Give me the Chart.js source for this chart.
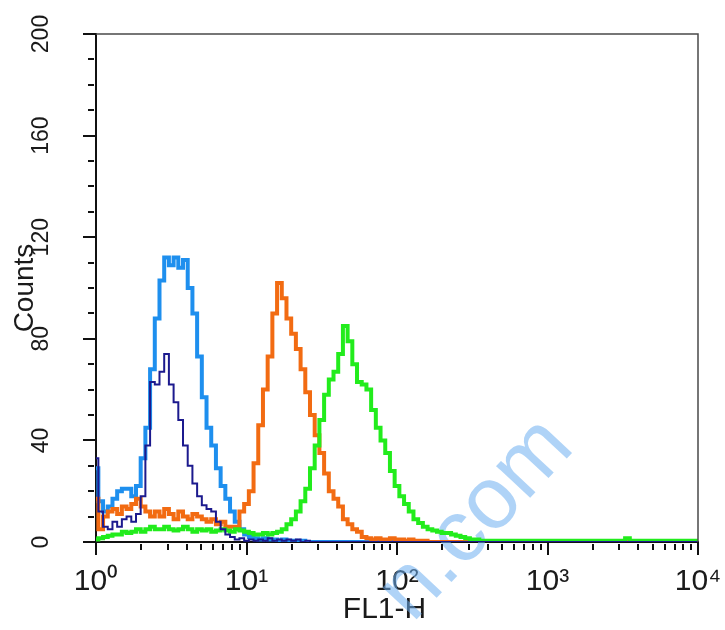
<!DOCTYPE html>
<html>
<head>
<meta charset="utf-8">
<script src="https://cdn.jsdelivr.net/npm/chart.js@4.4.0/dist/chart.umd.min.js"></script>
<style>
  html, body { margin: 0; padding: 0; background: #ffffff; }
  canvas { display: block; }
</style>
</head>
<body>
<canvas id="c" width="725" height="630"></canvas>
<script>
// ---- Data (counts per channel, 32 channels per decade, 10^0 .. 10^4) ----
const CHANNELS_PER_DECADE = 32;

const lightBlue = [
  29,16,12,14,17,20,21,21,18,22,
  33,45,68,88,103,112,109,112,108,111,
  100,90,73,57,45,38,29,22,17,12,
  8,5,3,2,1.5,1,1.5,1,1,0.5,
  1,0.5,0.5,0,0.5,0,0,0,0,0,
  0,0,0,0,0,0,0,0,0,0,
  0,0,0,0,0,0,0,0,0,0,
  0,0,0,0,0,0,0,0,0,0,
  0,0,0,0,0,0,0,0,0,0,
  0,0,0,0,0,0,0,0,0,0,
  0,0,0,0,0,0,0,0,0,0,
  0,0,0,0,0,0,0,0,0,0,
  0,0,0,0,0,0,0,0,0
];

const darkBlue = [
  33,12,6,5,8,6,9,10,8,11,
  18,38,63,62,67,74,62,55,48,38,
  30,23,18,14.5,13,12,8,5,3,2,
  1,1.5,0.5,1,0.5,1,0.5,1.5,0.5,1,
  0.5,1,0.5,1,0,0.5,0,0,0,0,
  0,0,0,0,0,0,0,0,0,0,
  0,0,0,0,0,0,0,0,0,0,
  0,0,0,0,0,0,0,0,0,0,
  0,0,0,0,0,0,0,0,0,0,
  0,0,0,0,0,0,0,0,0,0,
  0,0,0,0,0,0,0,0,0,0,
  0,0,0,0,0,0,0,0,0,0,
  0,0,0,0,0,0,0,0,0
];

const orange = [
  17,5,10,12,13,11,14,13,15,17,
  14,12,10,12,10,13,11,9,12,10,
  9,11,10,9,8,9,7,8,6,6,
  6,12,15,20,31,46,60,73,90,102,
  96,88,82,76,68,59,50,42,35,27,
  20,17,14,9,7,5,4,2,1.5,1,
  1.5,1,1,1.5,1,1,0.5,1,0.5,0.5,
  0.5,0,0,0,0,0,0,0,0,0,
  0,0,0,0,0,0,0,0,0,0,
  0,0,0,0,0,0,0,0,0,0,
  0,0,0,0,0,0,0,0,0,0,
  0,0,0,0,0,0,0,0,0,0,
  0,0,0,0,0,0,0,0,0
];

const green = [
  1,1.5,2,2.5,3,3,4,3.5,4,5,
  4,5,6,5,5,6,5,4.5,5,6,
  5,4,5,4.5,5,4,4.5,5,4.5,4,
  5,4.5,4,3.5,3,3,3.5,3,3.5,4,
  5,7,9,12,16,21,29,38,48,58,
  64,67,74,85,79,70,63,62,60,52,
  45,40,35,28,22,18,15,12,9,7.5,
  6,5,4.5,4,3.5,3.5,3,2.5,2,1.5,
  1,1,0.5,0.5,0.5,0.5,0.5,0.5,0.5,0.5,
  0.5,0.5,0.5,0.5,0.5,0.5,0.5,0.5,0.5,0.5,
  0.5,0.5,0.5,0.5,0.5,0.5,0.5,0.5,0.5,0.5,
  0.5,0.5,0.5,1.5,0.5,0.5,0.5,0.5,0.5,0.5,
  0.5,0.5,0.5,0.5,0.5,0.5,0.5,0.5,0.5
];

// ---- Axis ticks / labels ----
const xMajorTicks = [1, 10, 100, 1000, 10000];
const xTickLabels = ['10\u2070', '10\u00B9', '10\u00B2', '10\u00B3', '10\u2074'];
const yMajorTicks = [0, 40, 80, 120, 160, 200];
const yTickLabels = ['0', '40', '80', '120', '160', '200'];
const yMinorStep = 10;
const xTitle = 'FL1-H';
const yTitle = 'Counts';
const watermarkText = 'n.com';

const FONT = "'Liberation Sans', Arial, Helvetica, sans-serif";
Chart.defaults.font.family = FONT;

function toPoints(values) {
  return values.map((v, i) => ({ x: Math.pow(10, i / CHANNELS_PER_DECADE), y: v }));
}

function zeroPadding(s) {
  s.paddingLeft = 0; s.paddingRight = 0; s.paddingTop = 0; s.paddingBottom = 0;
}

const decorPlugin = {
  id: 'decor',
  beforeDatasetsDraw(chart) {
    const ctx = chart.ctx;
    ctx.save();
    ctx.translate(446, 588);
    ctx.rotate(-47 * Math.PI / 180);
    ctx.font = "88px " + FONT;
    ctx.fillStyle = 'rgba(110,175,240,0.55)';
    ctx.textBaseline = 'alphabetic';
    ctx.textAlign = 'left';
    const w = ctx.measureText(watermarkText.charAt(0)).width;
    ctx.fillText(watermarkText, -w, 0);
    ctx.restore();
  },
  afterDraw(chart) {
    const { ctx, chartArea: a, scales } = chart;
    const xs = scales.x, ys = scales.y;
    ctx.save();
    // top and right frame
    ctx.strokeStyle = '#4a4a4a';
    ctx.lineWidth = 1.5;
    ctx.beginPath();
    ctx.moveTo(a.left, a.top);
    ctx.lineTo(a.right, a.top);
    ctx.lineTo(a.right, a.bottom);
    ctx.stroke();
    // x tick marks (log minor ticks)
    ctx.strokeStyle = '#111';
    ctx.lineWidth = 2;
    const xTickVals = [];
    for (let d = 0; d < xMajorTicks.length - 1; d++) {
      for (let m = 1; m <= 9; m++) xTickVals.push(xMajorTicks[d] * m);
    }
    xTickVals.push(xMajorTicks[xMajorTicks.length - 1]);
    xTickVals.forEach(v => {
      const px = Math.round(xs.getPixelForValue(v));
      const major = xMajorTicks.includes(v);
      ctx.beginPath();
      ctx.moveTo(px, a.bottom + (major ? 0 : 2));
      ctx.lineTo(px, a.bottom + (major ? 13 : 8));
      ctx.stroke();
    });
    // y tick marks
    for (let v = ys.min; v <= ys.max; v += yMinorStep) {
      const py = Math.round(ys.getPixelForValue(v));
      const major = yMajorTicks.includes(v);
      ctx.beginPath();
      ctx.moveTo(a.left - (major ? 0 : 2), py);
      ctx.lineTo(a.left - (major ? 13 : 8), py);
      ctx.stroke();
    }
    ctx.restore();
  }
};

new Chart(document.getElementById('c'), {
  type: 'line',
  data: {
    datasets: [
      { label: 'isotype', data: toPoints(darkBlue), borderColor: '#1c1a8e', borderWidth: 2 },
      { label: 'sample 3', data: toPoints(green), borderColor: '#22ec1c', borderWidth: 4 },
      { label: 'sample 2', data: toPoints(orange), borderColor: '#f26b12', borderWidth: 4 },
      { label: 'control', data: toPoints(lightBlue), borderColor: '#1e8fee', borderWidth: 4 }
    ].map(d => Object.assign(d, { stepped: 'middle', pointRadius: 0, fill: false, tension: 0 }))
  },
  options: {
    responsive: false,
    animation: false,
    devicePixelRatio: 1,
    layout: { padding: { left: 0, right: 27, top: 34, bottom: 0 } },
    plugins: { legend: { display: false }, tooltip: { enabled: false } },
    scales: {
      x: {
        type: 'logarithmic',
        min: 1,
        max: 10000,
        afterBuildTicks: s => { s.ticks = xMajorTicks.map(v => ({ value: v, major: true })); },
        afterFit: s => { s.height = 88; zeroPadding(s); },
        ticks: {
          autoSkip: false,
          maxRotation: 0,
          minRotation: 0,
          padding: 22,
          color: '#1a1a1a',
          font: { size: 30 },
          callback: (v, i) => xTickLabels[i]
        },
        grid: { display: false, drawTicks: false },
        border: { display: true, color: '#111', width: 2 },
        title: { display: true, text: xTitle + '   ', color: '#1a1a1a', font: { size: 30 }, padding: { top: 0, bottom: 2 } }
      },
      y: {
        type: 'linear',
        min: 0,
        max: 200,
        afterBuildTicks: s => { s.ticks = yMajorTicks.map(v => ({ value: v })); },
        afterFit: s => { s.width = 96; zeroPadding(s); },
        ticks: {
          autoSkip: false,
          minRotation: 90,
          maxRotation: 90,
          crossAlign: 'center',
          padding: 35,
          color: '#1a1a1a',
          font: { size: 23 },
          callback: (v, i) => yTickLabels[i]
        },
        grid: { display: false, drawTicks: false },
        border: { display: true, color: '#111', width: 2 },
        title: { display: true, text: yTitle, color: '#1a1a1a', font: { size: 28 }, padding: { top: 8, bottom: 0 } }
      }
    }
  },
  plugins: [decorPlugin]
});
</script>
</body>
</html>
